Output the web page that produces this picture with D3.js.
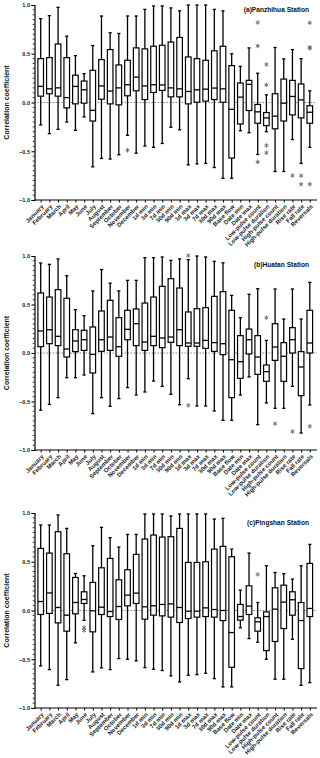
<!DOCTYPE html>
<html><head><meta charset="utf-8">
<script src="https://cdn.jsdelivr.net/npm/d3@7"></script>
<style>body{margin:0;background:#fff} svg{display:block}</style>
</head><body><svg id="c" width="320" height="758"></svg>
<script>
const categories = ["January","February","March","April","May","June","July","August","September","October","November","December","1d min","3d min","7d min","30d min","90d min","1d max","3d max","7d max","30d max","90d max","Base flow","Date min","Date max","Low-pulse count","Low-pulse duration","High-pulse count","High-pulse duration","Rise rate","Fall rate","Reversals"];
const yTicks = [-1.0, -0.5, 0.0, 0.5, 1.0];
const stationTitles = ["(a)Panzhihua Station", "(b)Huatan Station", "(c)Pingshan Station"];
// each box: [lower whisker, Q1, median, Q3, upper whisker]
const panzhihuaBoxes = [
 [-0.23,0.065,0.165,0.45,0.86],[-0.32,0.09,0.14,0.46,0.89],[-0.275,0.065,0.15,0.60,0.976],[-0.20,-0.055,0.05,0.46,0.68],
 [-0.285,-0.014,0.165,0.28,0.48],[-0.148,-0.007,0.13,0.22,0.296],[-0.66,-0.19,-0.08,0.33,0.584],[-0.574,0.034,0.17,0.44,0.887],
 [-0.58,-0.014,0.117,0.543,0.715],[-0.536,-0.024,0.15,0.385,0.708],[-0.337,0.069,0.182,0.433,0.887],[-0.52,0.12,0.26,0.56,0.887],
 [-0.447,0.03,0.17,0.55,0.955],[-0.46,0.103,0.182,0.577,0.99],[-0.42,0.124,0.18,0.587,0.99],[-0.254,0.058,0.15,0.62,0.97],
 [-0.28,0.058,0.14,0.667,0.94],[-0.64,-0.014,0.113,0.467,1.0],[-0.63,0.003,0.13,0.45,1.0],[-0.625,0.014,0.137,0.433,1.0],
 [-0.667,0.03,0.148,0.53,0.955],[-0.777,0.003,0.14,0.577,0.94],[-0.777,-0.57,-0.07,0.378,0.50],[-0.29,-0.22,0.055,0.2,0.37],
 [-0.31,-0.082,0.186,0.227,0.56],[-0.533,-0.213,-0.096,-0.02,0.30],[-0.30,-0.237,-0.158,-0.103,0.079],[-0.708,-0.27,-0.14,0.09,0.564],
 [-0.708,-0.19,-0.007,0.24,0.447],[-0.38,-0.127,0.062,0.227,0.543],[-0.625,-0.158,0.027,0.19,0.45],[-0.46,-0.213,-0.1,-0.034,0.12]
];
const panzhihuaOutliers = [
 ["November",-0.49],["Low-pulse count",0.82],["Low-pulse count",0.58],["Low-pulse count",-0.61],
 ["Low-pulse duration",0.39],["Low-pulse duration",0.18],["Low-pulse duration",-0.44],["Low-pulse duration",-0.515],
 ["Rise rate",-0.75],["Fall rate",-0.75],["Fall rate",-0.838],["Reversals",0.818],["Reversals",0.566],["Reversals",0.556],["Reversals",-0.838]
];
const huatanBoxes = [
 [-0.59,0.065,0.227,0.619,0.928],[-0.53,0.096,0.24,0.577,0.914],[-0.46,0.076,0.172,0.653,0.97],[-0.254,-0.041,0.041,0.564,0.797],
 [-0.254,0.014,0.124,0.24,0.447],[-0.227,0.027,0.137,0.234,0.385],[-0.625,-0.206,-0.014,0.268,0.64],[-0.46,0.017,0.137,0.433,0.86],
 [-0.55,0.027,0.165,0.543,0.72],[-0.47,-0.034,0.065,0.364,0.64],[-0.357,0.137,0.244,0.44,0.749],[-0.433,0.076,0.302,0.454,0.749],
 [-0.402,0.027,0.113,0.515,0.983],[-0.289,0.076,0.172,0.577,0.983],[-0.344,0.055,0.155,0.687,0.99],[-0.426,0.11,0.165,0.766,0.955],
 [-0.533,0.076,0.24,0.67,0.97],[-0.265,0.069,0.103,0.423,0.962],[-0.546,0.069,0.103,0.457,1.0],[-0.546,0.048,0.13,0.467,0.99],
 [-0.598,0.017,0.107,0.584,0.945],[-0.694,-0.017,0.096,0.632,0.93],[-0.694,-0.46,-0.069,0.44,0.594],[-0.433,-0.261,-0.089,0.179,0.364],
 [-0.247,-0.01,0.137,0.247,0.605],[-0.739,-0.22,-0.041,0.179,0.663],[-0.515,-0.292,-0.192,-0.124,0.13],[-0.57,-0.076,0.062,0.302,0.66],
 [-0.57,-0.292,-0.034,0.107,0.35],[-0.344,0.0,0.137,0.261,0.66],[-0.825,-0.44,-0.144,0.014,0.35],[-0.536,0.0,0.103,0.44,0.728]
];
const huatanOutliers = [
 ["1d max",1.005],["1d max",-0.54],["Low-pulse duration",0.364],["High-pulse count",-0.728],["Rise rate",-0.81],["Reversals",-0.756]
];
const pingshanBoxes = [
 [-0.568,-0.041,0.092,0.637,0.877],[-0.606,-0.03,0.18,0.589,0.877],[-0.767,-0.127,0.031,0.808,0.98],[-0.709,-0.212,-0.048,0.582,0.842],
 [-0.332,-0.034,0.082,0.339,0.38],[-0.1,0.072,0.113,0.192,0.356],[-0.63,-0.219,-0.003,0.288,0.664],[-0.589,-0.041,0.034,0.438,0.853],
 [-0.606,-0.062,-0.01,0.534,0.747],[-0.493,-0.092,0.041,0.315,0.65],[-0.5,0.048,0.158,0.418,0.78],[-0.517,0.072,0.178,0.575,0.78],
 [-0.586,-0.089,0.038,0.733,0.99],[-0.603,-0.048,0.048,0.774,0.99],[-0.616,-0.055,0.062,0.753,0.99],[-0.671,-0.068,0.068,0.757,0.97],
 [-0.733,-0.123,0.031,0.842,0.99],[-0.664,-0.082,-0.007,0.493,0.99],[-0.658,-0.068,-0.007,0.493,0.99],[-0.644,-0.062,0.027,0.5,0.99],
 [-0.699,-0.068,0.01,0.63,0.938],[-0.784,-0.103,0.0,0.658,0.945],[-0.784,-0.582,-0.226,0.551,0.63],[-0.178,-0.099,-0.062,0.062,0.209],
 [-0.288,-0.041,0.045,0.253,0.589],[-0.325,-0.212,-0.116,-0.075,0.082],[-0.5,-0.411,-0.062,-0.014,0.459],[-0.705,-0.318,0.014,0.233,0.39],
 [-0.705,-0.185,0.086,0.26,0.377],[-0.295,-0.048,0.11,0.192,0.322],[-0.767,-0.596,-0.103,0.082,0.459],[-0.74,-0.062,0.021,0.483,0.678]
];
const pingshanOutliers = [
 ["June",-0.175],["June",-0.205],["Low-pulse count",0.37]
];

const panels = [
  {title: stationTitles[0], boxes: panzhihuaBoxes, outliers: panzhihuaOutliers, top: 5, bottom: 200, titleY: 12},
  {title: stationTitles[1], boxes: huatanBoxes, outliers: huatanOutliers, top: 256, bottom: 450, titleY: 267},
  {title: stationTitles[2], boxes: pingshanBoxes, outliers: pingshanOutliers, top: 513, bottom: 708, titleY: 525}
];

const svg = d3.select("#c");
const font = "'Liberation Sans', Arial, sans-serif";
const axisX = 34.5, rightX = 317;
const x = d3.scalePoint().domain(categories).range([40.7, 309.8]);
const boxW = 5.6, capW = 3.2;
const star = d3.symbol().type(d3.symbolAsterisk).size(14);

panels.forEach(p => {
  const y = d3.scaleLinear().domain([-1, 1]).range([p.bottom, p.top]);
  const g = svg.append("g");

  // zero reference line
  g.append("line").attr("x1", axisX).attr("x2", rightX).attr("y1", y(0)).attr("y2", y(0))
    .attr("stroke", "#666").attr("stroke-width", 0.8).attr("stroke-dasharray", "1.5,1.5");

  // y axis
  const yAxis = d3.axisLeft(y).tickValues(yTicks).tickFormat(d3.format(".1f")).tickSize(3).tickPadding(1.5);
  const ya = g.append("g").attr("transform", `translate(${axisX},0)`).call(yAxis);
  ya.select(".domain").attr("stroke", "#000").attr("stroke-width", 1.2);
  ya.selectAll(".tick line").attr("stroke-width", 1.1);
  ya.selectAll("text").attr("font-family", font).attr("font-size", 5.6).attr("font-weight", "bold").attr("fill", "#222");
  const minor = d3.range(-1, 1.0001, 0.05).filter(v => !yTicks.some(t => Math.abs(t - v) < 1e-6));
  g.append("g").selectAll("line").data(minor).join("line")
    .attr("x1", axisX - 1.8).attr("x2", axisX).attr("y1", d => y(d)).attr("y2", d => y(d))
    .attr("stroke", "#000").attr("stroke-width", 0.8);

  // x axis
  const xAxis = d3.axisBottom(x).tickSize(2.5).tickPadding(2).tickSizeOuter(0);
  const xa = g.append("g").attr("transform", `translate(0,${p.bottom})`).call(xAxis);
  xa.select(".domain").attr("d", `M${axisX},0H${rightX}`).attr("stroke", "#000").attr("stroke-width", 1.2);
  xa.selectAll(".tick line").attr("stroke-width", 1);
  xa.selectAll("text").attr("font-family", font).attr("font-size", 6).attr("font-weight", "bold").attr("fill", "#222")
    .attr("text-anchor", "end").attr("y", 0).attr("dy", "0.35em")
    .attr("transform", "translate(1.5,5.5) rotate(-45)");

  // y title
  g.append("text").attr("transform", `translate(9,${(p.top + p.bottom) / 2}) rotate(-90)`)
    .attr("text-anchor", "middle").attr("font-family", font).attr("font-size", 7).attr("font-weight", "bold")
    .attr("fill", "#111").text("Correlation coefficient");

  // station title
  g.append("text").attr("x", 309).attr("y", p.titleY).attr("text-anchor", "end")
    .attr("font-family", font).attr("font-size", 6.6).attr("font-weight", "bold").attr("fill", "#111").text(p.title);

  // boxes
  const bg = g.append("g").selectAll("g").data(p.boxes).join("g")
    .attr("transform", (d, i) => `translate(${x(categories[i])},0)`);
  bg.append("line").attr("x1", 0).attr("x2", 0).attr("y1", d => y(d[4])).attr("y2", d => y(d[3]))
    .attr("stroke", "#000").attr("stroke-width", 1.3);
  bg.append("line").attr("x1", 0).attr("x2", 0).attr("y1", d => y(d[1])).attr("y2", d => y(d[0]))
    .attr("stroke", "#000").attr("stroke-width", 1.3);
  bg.append("line").attr("x1", -capW / 2).attr("x2", capW / 2).attr("y1", d => y(d[4])).attr("y2", d => y(d[4]))
    .attr("stroke", "#000").attr("stroke-width", 1.3);
  bg.append("line").attr("x1", -capW / 2).attr("x2", capW / 2).attr("y1", d => y(d[0])).attr("y2", d => y(d[0]))
    .attr("stroke", "#000").attr("stroke-width", 1.3);
  bg.append("rect").attr("x", -boxW / 2).attr("width", boxW).attr("y", d => y(d[3])).attr("height", d => y(d[1]) - y(d[3]))
    .attr("fill", "#fff").attr("stroke", "#000").attr("stroke-width", 1.2);
  bg.append("line").attr("x1", -boxW / 2).attr("x2", boxW / 2).attr("y1", d => y(d[2])).attr("y2", d => y(d[2]))
    .attr("stroke", "#000").attr("stroke-width", 1.3);

  // outliers
  g.append("g").selectAll("path").data(p.outliers).join("path")
    .attr("d", star).attr("transform", d => `translate(${x(d[0])},${y(d[1])})`)
    .attr("fill", "none").attr("stroke", "#666").attr("stroke-width", 0.9);
});
</script></body></html>
